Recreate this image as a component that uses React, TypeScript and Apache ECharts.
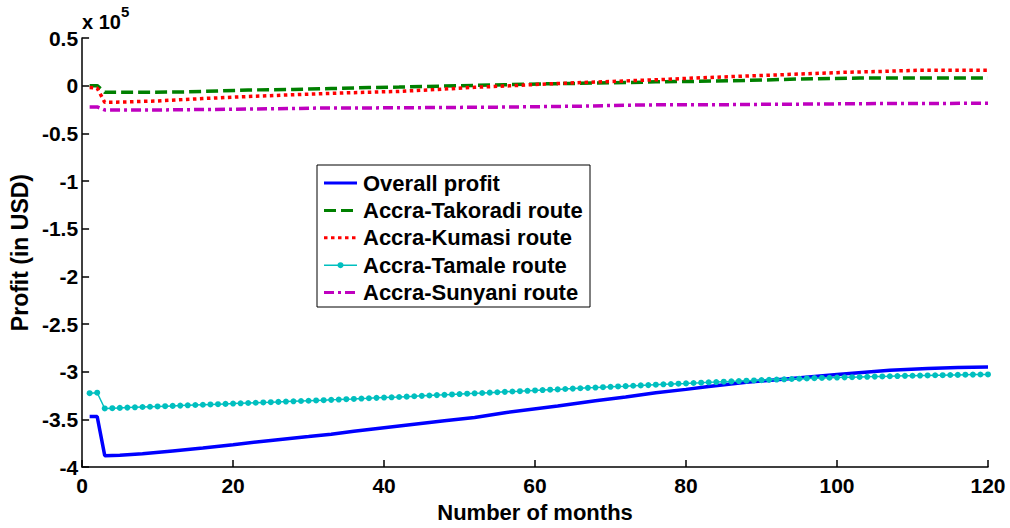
import React, { useEffect, useRef } from "react";
import * as echarts from "echarts";

const xTicks = [0, 20, 40, 60, 80, 100, 120];
const yTickLabels = ["0.5", "0", "-0.5", "-1", "-1.5", "-2", "-2.5", "-3", "-3.5", "-4"];

const seriesNames = [
  "Overall profit",
  "Accra-Takoradi route",
  "Accra-Kumasi route",
  "Accra-Tamale route",
  "Accra-Sunyani route",
];

// [month, profit in USD]
const overallProfit: [number, number][] = [
  [1, -347000], [2, -347000], [3, -388000], [5, -387500], [8, -386000], [12, -383000],
  [16, -380000], [20, -376500], [25, -372000], [30, -368000], [33, -365500], [36, -362500],
  [42, -357000], [48, -351500], [52, -348000], [56, -343000], [63, -336000], [68, -330500],
  [72, -326500], [76, -322000], [80, -318500], [83, -315500], [88, -311000], [94, -307000],
  [100, -303000], [107, -298500], [112, -296500], [116, -295500], [120, -295000],
];

const takoradiProfit: [number, number][] = [
  [1, 0], [2, 0], [3, -7000], [8, -7000], [14, -6500], [18, -5500], [22, -4500],
  [28, -4000], [33, -3000], [38, -2000], [42, -1500], [50, 0], [56, 1000], [62, 2000],
  [70, 3000], [76, 4000], [81, 4500], [88, 5500], [95, 7000], [103, 8000], [120, 8000],
];

const kumasiProfit: [number, number][] = [
  [1, -2000], [2, -2500], [3, -17500], [6, -17000], [10, -16000], [16, -13500],
  [21, -11700], [28, -9500], [35, -7500], [42, -6000], [47, -4000], [52, -1700],
  [57, 0], [62, 2000], [67, 3500], [72, 5000], [77, 6500], [81, 8000], [86, 9500],
  [91, 11000], [96, 12500], [101, 14000], [106, 15000], [111, 16200], [120, 16300],
];

// monthly values, month 1..120
const tamaleProfit: number[] = [
  -322500, -322000, -338500, -338200, -337900, -337600, -337300, -337000, -336700, -336400,
  -336100, -335800, -335500, -335200, -334900, -334600, -334300, -334000, -333700, -333400,
  -333100, -332800, -332500, -332200, -331900, -331600, -331300, -331000, -330700, -330400,
  -330100, -329800, -329500, -329200, -328800, -328500, -328100, -327800, -327400, -327100,
  -326800, -326500, -326100, -325700, -325300, -324900, -324500, -324200, -323800, -323400,
  -323000, -322600, -322300, -321900, -321500, -321100, -320700, -320400, -320000, -319600,
  -319200, -318800, -318500, -318100, -317700, -317300, -316900, -316600, -316200, -315800,
  -315400, -315100, -314700, -314300, -314000, -313600, -313200, -312900, -312500, -312200,
  -311800, -311500, -311100, -310800, -310400, -310100, -309800, -309400, -309100, -308800,
  -308500, -308200, -307900, -307600, -307300, -307000, -306700, -306500, -306300, -306100,
  -305900, -305700, -305500, -305300, -305100, -304900, -304700, -304500, -304300, -304200,
  -304000, -303900, -303700, -303600, -303400, -303300, -303100, -303000, -302900, -302800,
];

const sunyaniProfit: [number, number][] = [
  [1, -22300], [2, -22300], [3, -25500], [10, -25500], [16, -25000], [22, -24500],
  [28, -24000], [31, -23500], [42, -23200], [55, -22500], [66, -21500], [72, -20500],
  [77, -20000], [84, -20000], [90, -19600], [98, -19200], [106, -18700], [120, -18500],
];

const FONT = "'Liberation Sans', Arial, Helvetica, sans-serif";

const colors = ["#0000ff", "#008000", "#ff0000", "#00bfbf", "#bf00bf"];
const dashes: (number[] | null)[] = [null, [12, 5], [3.5, 3.5], null, [10, 4, 3, 4]];
const widths = [3.5, 3.5, 3.5, 1.5, 3.5];

export default function App() {
  const ref = useRef<HTMLDivElement>(null);

  useEffect(() => {
    if (!ref.current) return;
    const chart = echarts.init(ref.current, undefined, { renderer: "svg" });
    const tamaleData = tamaleProfit.map((v, i) => [i + 1, v]);
    const yLabelMap: Record<string, string> = {};
    yTickLabels.forEach((l) => {
      yLabelMap[String(Math.round(parseFloat(l) * 100000))] = l;
    });

    // legend drawn with graphic elements (MATLAB-style box)
    const lgLeft = 317;
    const lgTop = 165;
    const lgW = 273;
    const lgH = 142;
    const rowY0 = 183;
    const rowStep = 27.4;
    const legendEls: any[] = [
      {
        type: "rect",
        shape: { x: lgLeft, y: lgTop, width: lgW, height: lgH },
        style: { fill: "#fff", stroke: "#000", lineWidth: 1 },
        z: 100,
      },
    ];
    seriesNames.forEach((name, i) => {
      const y = rowY0 + i * rowStep;
      legendEls.push({
        type: "line",
        shape: { x1: 324, y1: y, x2: 357, y2: y },
        style: {
          stroke: colors[i],
          lineWidth: widths[i] === 1.5 ? 1.5 : 3,
          lineDash: dashes[i] || undefined,
        },
        z: 101,
      });
      if (i === 3) {
        legendEls.push({
          type: "circle",
          shape: { cx: 340.5, cy: y, r: 3 },
          style: { fill: colors[i] },
          z: 102,
        });
      }
      legendEls.push({
        type: "text",
        x: 363,
        y: y,
        style: {
          text: name,
          font: `bold 22px ${FONT}`,
          fill: "#000",
          verticalAlign: "middle",
          align: "left",
        },
        z: 101,
      });
    });

    chart.setOption({
      animation: false,
      backgroundColor: "#ffffff",
      grid: { left: 81, right: 22, top: 38, bottom: 53, containLabel: false },
      xAxis: {
        type: "value",
        min: xTicks[0],
        max: xTicks[xTicks.length - 1],
        interval: 20,
        name: "Number of months",
        nameLocation: "middle",
        nameGap: 30,
        nameTextStyle: { fontFamily: FONT, fontWeight: "bold", fontSize: 22, color: "#000" },
        axisLine: { onZero: false, lineStyle: { color: "#000", width: 1.5 } },
        axisTick: { inside: true, length: 7, lineStyle: { color: "#000", width: 1.5 } },
        axisLabel: { fontFamily: FONT, fontWeight: "bold", fontSize: 21, color: "#000", margin: 8 },
        splitLine: { show: false },
      },
      yAxis: {
        type: "value",
        min: -400000,
        max: 50000,
        interval: 50000,
        name: "Profit (in USD)",
        nameLocation: "middle",
        nameGap: 50,
        nameTextStyle: { fontFamily: FONT, fontWeight: "bold", fontSize: 23, color: "#000" },
        axisLine: { onZero: false, lineStyle: { color: "#000", width: 1.5 } },
        axisTick: { inside: true, length: 7, lineStyle: { color: "#000", width: 1.5 } },
        axisLabel: {
          fontFamily: FONT,
          fontWeight: "bold",
          fontSize: 21,
          color: "#000",
          margin: 4,
          formatter: (v: number) => yLabelMap[String(Math.round(v))] ?? String(v / 100000),
        },
        splitLine: { show: false },
      },
      graphic: [
        {
          type: "text",
          left: 82,
          top: 12,
          style: {
            text: "x 10",
            font: `bold 20px ${FONT}`,
            fill: "#000",
          },
        },
        {
          type: "text",
          left: 121,
          top: 4,
          style: {
            text: "5",
            font: `bold 15px ${FONT}`,
            fill: "#000",
          },
        },
        ...legendEls,
      ],
      series: [
        {
          name: seriesNames[0],
          type: "line",
          data: overallProfit,
          symbol: "none",
          lineStyle: { color: colors[0], width: widths[0] },
          itemStyle: { color: colors[0] },
          z: 2,
        },
        {
          name: seriesNames[1],
          type: "line",
          data: takoradiProfit,
          symbol: "none",
          lineStyle: { color: colors[1], width: widths[1], type: dashes[1] },
          itemStyle: { color: colors[1] },
          z: 2,
        },
        {
          name: seriesNames[2],
          type: "line",
          data: kumasiProfit,
          symbol: "none",
          lineStyle: { color: colors[2], width: widths[2], type: dashes[2] },
          itemStyle: { color: colors[2] },
          z: 2,
        },
        {
          name: seriesNames[3],
          type: "line",
          data: tamaleData,
          symbol: "circle",
          symbolSize: 6,
          showSymbol: true,
          showAllSymbol: true,
          lineStyle: { color: colors[3], width: widths[3] },
          itemStyle: { color: colors[3], borderWidth: 0 },
          z: 3,
        },
        {
          name: seriesNames[4],
          type: "line",
          data: sunyaniProfit,
          symbol: "none",
          lineStyle: { color: colors[4], width: widths[4], type: dashes[4] },
          itemStyle: { color: colors[4] },
          z: 2,
        },
      ],
    });

    return () => chart.dispose();
  }, []);

  return (
    <div
      ref={ref}
      style={{ position: "fixed", left: 0, top: 0, width: 1010, height: 528, background: "#fff" }}
    />
  );
}
